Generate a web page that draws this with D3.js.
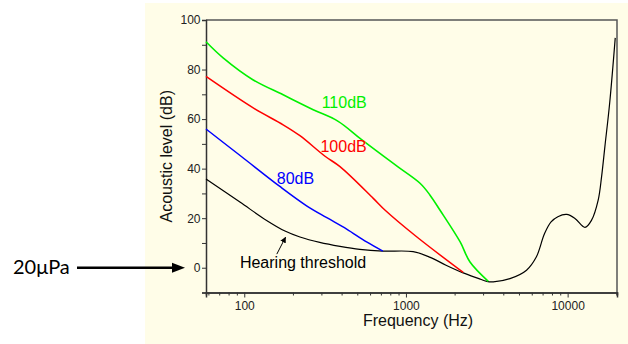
<!DOCTYPE html>
<html>
<head>
<meta charset="utf-8">
<script src="https://cdn.jsdelivr.net/npm/d3@7"></script>
<style>
  body { margin: 0; background: #fff; }
  svg text { font-family: 'Liberation Sans', Arial, sans-serif; }
</style>
</head>
<body>
<div id="graf"></div>
<script>
// umbral de audicion (hearing threshold)
const umbralFreq = [58, 94, 137.5, 178.6, 221, 293, 391, 518, 720, 1108, 1413, 1770, 2260, 2800, 3160, 3470, 4400, 5570, 6400, 7200, 7900, 8700, 9860, 11100, 12800, 14060, 15450, 16220, 17000, 18200, 19700]
const umbralDb = [35.8, 26.5, 19.1, 14.8, 12.4, 10.2, 8.6, 7.4, 6.7, 6.5, 4.2, 1.0, -2.1, -4.3, -5.5, -5.7, -4.4, -1, 4.3, 13.8, 18.5, 20.6, 21.5, 19.9, 16.3, 19.2, 27.3, 36.8, 48.9, 66.5, 92.8]

// 110 dB
const verdeFreq = [58, 74, 113, 174, 267, 381, 532, 876, 1222, 1406, 1622, 2165, 2490, 3230]
const verdeDb = [91.2, 84.7, 75.9, 69.8, 63.8, 59.1, 51.7, 41.1, 34.1, 29.4, 23.3, 10.4, 2.3, -5.5]

// 100 dB
const rojoFreq = [58, 113.6, 174, 221, 316, 391, 628, 741, 1164, 2260]
const rojoDb = [77.2, 64.5, 57.7, 53.3, 45, 40.8, 28, 23.3, 12.5, -1.9]

// 80 dB
const azulFreq = [58, 96, 166, 243, 324, 430, 571, 720]
const azulDb = [56, 44.9, 32.8, 25, 20.2, 15.6, 10.4, 6.7]

const yTicks = [-10, 0, 10, 20, 30, 40, 50, 60, 70, 80, 90, 100]
const yLabels = [0, 20, 40, 60, 80, 100]
const xMajor = [100, 1000, 10000]
const xMinor = [60, 70, 80, 90, 200, 300, 400, 500, 600, 700, 800, 900,
  2000, 3000, 4000, 5000, 6000, 7000, 8000, 9000, 20000]

const anchoTotal = 628
const altoTotal = 344

const svg = d3.select('#graf')
  .append('svg')
  .attr('width', anchoTotal)
  .attr('height', altoTotal)

const margin = { top: 20, bottom: 51.5, left: 206, right: 11 }
const ancho = anchoTotal - margin.left - margin.right
const alto = altoTotal - margin.top - margin.bottom

// fondo crema
svg.append('rect')
  .attr('x', 145).attr('y', 3)
  .attr('width', anchoTotal - 145).attr('height', altoTotal - 3)
  .attr('fill', '#fffde8')

const g = svg.append('g')
  .attr('transform', `translate(${margin.left}, ${margin.top})`)

const x = d3.scaleLog().domain([58, 20200]).range([0, ancho])
const y = d3.scaleLinear().domain([-10, 100]).range([alto, 0])

// marco superior y derecho
g.append('path')
  .attr('d', `M0,0H${ancho}V${alto}`)
  .attr('fill', 'none')
  .attr('stroke', '#555')
  .attr('stroke-width', 1.5)

// eje x
g.append('g')
  .attr('transform', `translate(0, ${alto})`)
  .call(d3.axisBottom(x).tickValues(xMinor).tickSize(3).tickFormat(''))
const xAxisGroup = g.append('g')
  .attr('transform', `translate(0, ${alto})`)
  .call(d3.axisBottom(x).tickValues(xMajor).tickSize(5).tickPadding(3.5).tickFormat(d3.format('d')))

// eje y
const yAxisGroup = g.append('g')
  .call(d3.axisLeft(y).tickValues(yTicks).tickSize(4).tickPadding(1.5)
    .tickFormat(d => yLabels.includes(d) ? d : ''))

g.selectAll('.domain').attr('stroke', '#333').attr('stroke-width', 1.5)
g.selectAll('.tick line').attr('stroke', '#333')
g.selectAll('.tick text').attr('fill', '#222')
  .style('font-family', "'Liberation Sans', Arial, sans-serif")
  .style('font-size', '12px')

// curvas
const linea = d3.line()
  .x(d => x(d[0]))
  .y(d => y(d[1]))
  .curve(d3.curveCatmullRom.alpha(0.5))

const series = [
  { f: umbralFreq, v: umbralDb, color: '#000', w: 1.2 },
  { f: azulFreq, v: azulDb, color: '#0000ff', w: 1.5 },
  { f: rojoFreq, v: rojoDb, color: '#ff0000', w: 1.5 },
  { f: verdeFreq, v: verdeDb, color: '#00f000', w: 1.6 },
]

series.forEach(s => {
  g.append('path')
    .datum(d3.zip(s.f, s.v))
    .attr('d', linea)
    .attr('fill', 'none')
    .attr('stroke', s.color)
    .attr('stroke-width', s.w)
})

// etiquetas
const etiquetas = [
  { t: '110dB', f: 301, v: 64.5, c: '#00f000' },
  { t: '100dB', f: 296, v: 46.9, c: '#ff0000' },
  { t: '80dB', f: 159, v: 33.8, c: '#0000ff' },
  { t: 'Hearing threshold', f: 94, v: -0.3, c: '#000' },
]

g.selectAll('.etq').data(etiquetas).enter()
  .append('text')
  .attr('class', 'etq')
  .attr('x', d => x(d.f))
  .attr('y', d => y(d.v))
  .attr('font-size', 16)
  .attr('fill', d => d.c)
  .text(d => d.t)

// flechita al umbral
const defs = svg.append('defs')
defs.append('marker')
  .attr('id', 'punta')
  .attr('viewBox', '0 0 10 10')
  .attr('refX', 9).attr('refY', 5)
  .attr('markerWidth', 6).attr('markerHeight', 6)
  .attr('orient', 'auto')
  .append('path').attr('d', 'M0,0L10,5L0,10z').attr('fill', '#000')

g.append('line')
  .attr('x1', x(159)).attr('y1', y(5.5))
  .attr('x2', x(180)).attr('y2', y(12.3))
  .attr('stroke', '#000').attr('stroke-width', 1)
  .attr('marker-end', 'url(#punta)')

// titulos de ejes
g.append('text')
  .attr('x', 418 - margin.left)
  .attr('y', alto + 33.5)
  .attr('text-anchor', 'middle')
  .attr('font-size', 16)
  .attr('fill', '#111')
  .text('Frequency (Hz)')

g.append('text')
  .attr('transform', `translate(${171.5 - margin.left}, ${alto / 2}) rotate(-90)`)
  .attr('text-anchor', 'middle')
  .attr('font-size', 16)
  .attr('fill', '#111')
  .text('Acoustic level (dB)')

// 20µPa -> 0
const y0 = margin.top + y(0)
svg.append('text')
  .attr('x', 13).attr('y', y0 + 6.5)
  .attr('font-size', 20)
  .style('font-family', 'Lato, "Open Sans", sans-serif')
  .attr('fill', '#000')
  .text('20μPa')

svg.append('line')
  .attr('x1', 77).attr('y1', y0)
  .attr('x2', 174).attr('y2', y0)
  .attr('stroke', '#000').attr('stroke-width', 2.5)

svg.append('path')
  .attr('d', `M172,${y0 - 5}L185,${y0}L172,${y0 + 5}z`)
  .attr('fill', '#000')
</script>
</body>
</html>
